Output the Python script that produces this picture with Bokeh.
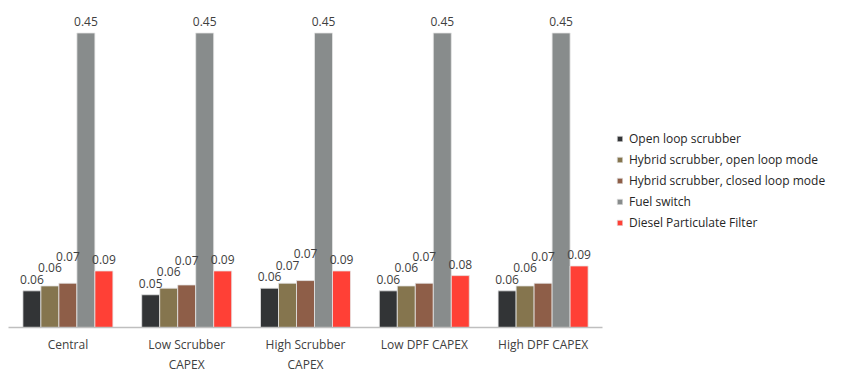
from bokeh.plotting import figure
from bokeh.models import ColumnDataSource, Range1d, FactorRange, Legend, LegendItem, LabelSet
from bokeh.transform import dodge
from bokeh.core.properties import value
from bokeh.embed import file_html
from bokeh.resources import INLINE

# Scenario groups along the x axis
categories = ["Central", "Low Scrubber\nCAPEX", "High Scrubber\nCAPEX", "Low DPF CAPEX", "High DPF CAPEX"]

# Abatement options (one bar per option in each group)
series_names = [
    "Open loop scrubber",
    "Hybrid scrubber, open loop mode",
    "Hybrid scrubber, closed loop mode",
    "Fuel switch",
    "Diesel Particulate Filter",
]

open_loop = [0.056, 0.050, 0.060, 0.056, 0.056]
hybrid_open = [0.0635, 0.060, 0.0676, 0.0635, 0.0635]
hybrid_closed = [0.0676, 0.065, 0.0717, 0.0676, 0.0676]
fuel_switch = [0.45, 0.45, 0.45, 0.45, 0.45]
dpf = [0.0864, 0.0864, 0.0864, 0.0793, 0.094]

colors = ["#323436", "#85754E", "#8E5E48", "#888C8C", "#FF4036"]

values = [open_loop, hybrid_open, hybrid_closed, fuel_switch, dpf]
bar_w = 0.1515
offsets = [(i - 2) * bar_w for i in range(5)]

FONT = "Open Sans"
Y_MAX = 0.492
FRAME_H = 322
px = Y_MAX / FRAME_H  # data units per screen pixel

# Value labels sit just above each bar; neighbouring labels that would
# collide are stacked upward so they stay readable.
gap = 7 * px
step = 11.5 * px
label_y = [[0.0] * len(categories) for _ in values]
for g in range(len(categories)):
    prev = None
    for s in range(len(values)):
        y = values[s][g] + gap
        if prev is not None and abs(y - prev) < step:
            y = prev + step
        label_y[s][g] = y
        prev = y

p = figure(
    x_range=FactorRange(*categories, range_padding=0),
    y_range=Range1d(0, Y_MAX),
    frame_width=594,
    frame_height=FRAME_H,
    output_backend="svg",
    toolbar_location=None,
    min_border_left=8,
    min_border_top=5,
    min_border_bottom=0,
    min_border_right=0,
)

items = []
for name, vals, ly, col, off in zip(series_names, values, label_y, colors, offsets):
    src = ColumnDataSource(dict(
        cat=categories,
        val=vals,
        ly=ly,
        lbl=[f"{v:.2f}" for v in vals],
    ))
    r = p.vbar(
        x=dodge("cat", off, range=p.x_range),
        top="val",
        width=bar_w,
        source=src,
        fill_color=col,
        line_color="#E6E6E6",
        line_width=0.8,
    )
    items.append(LegendItem(label=name, renderers=[r]))
    labels = LabelSet(
        x=dodge("cat", off, range=p.x_range),
        y="ly",
        text="lbl",
        source=src,
        text_align="center",
        text_baseline="alphabetic",
        text_font=value(FONT),
        text_font_size=value("12px"),
        text_color=value("#404040"),
    )
    p.add_layout(labels)

legend = Legend(
    items=items,
    location=(14, 94),
    orientation="vertical",
    border_line_color=None,
    background_fill_alpha=0,
    label_text_font=FONT,
    label_text_font_size="12px",
    label_text_color="#262626",
    glyph_width=7,
    glyph_height=7,
    label_height=21,
    label_standoff=6,
    spacing=0,
    padding=0,
    margin=0,
)
p.add_layout(legend, "right")

p.yaxis.visible = False
p.xgrid.grid_line_color = None
p.ygrid.grid_line_color = None
p.outline_line_color = None

p.xaxis.axis_line_color = "#BFBFBF"
p.xaxis.axis_line_width = 1.5
p.xaxis.major_tick_line_color = None
p.xaxis.minor_tick_line_color = None
p.xaxis.major_tick_out = 0
p.xaxis.major_label_text_font = FONT
p.xaxis.major_label_text_font_size = "12px"
p.xaxis.major_label_text_color = "#404040"
p.xaxis.major_label_standoff = 8

open("out.html", "w").write(file_html(p, INLINE))
